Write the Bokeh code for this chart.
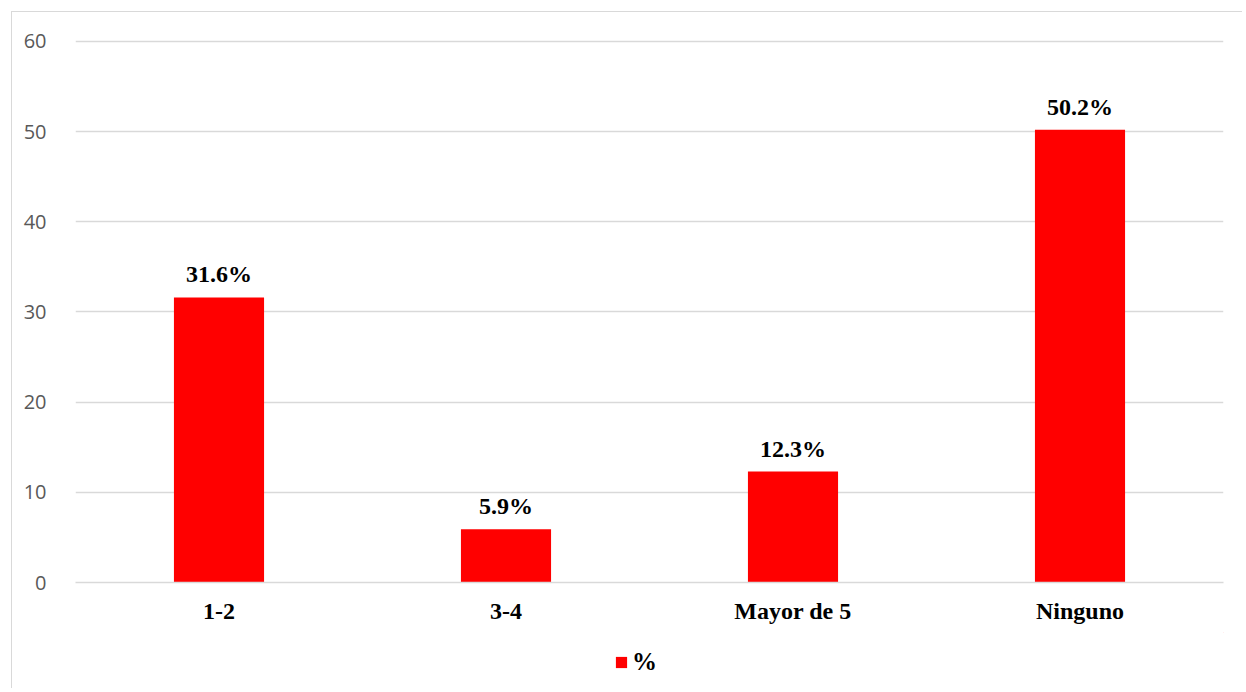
from bokeh.plotting import figure
from bokeh.layouts import column
from bokeh.models import ColumnDataSource, FactorRange, Range1d, Legend, LegendItem, FixedTicker, LabelSet
from bokeh.embed import file_html
from bokeh.resources import INLINE

categories = ["1-2", "3-4", "Mayor de 5", "Ninguno"]
values = [31.6, 5.9, 12.3, 50.2]
labels = ["31.6%", "5.9%", "12.3%", "50.2%"]
y_ticks = [0, 10, 20, 30, 40, 50, 60]
series_name = "%"

BAR_COLOR = "#FF0000"
GRID = "#d9d9d9"

src = ColumnDataSource(dict(cat=categories, val=values, lab=labels))

p = figure(
    x_range=FactorRange(*categories, range_padding=0),
    y_range=Range1d(0, 60.2),
    width=1230, height=620,
    output_backend="svg", toolbar_location=None,
    min_border_left=63, min_border_right=19, min_border_top=27, min_border_bottom=50,
)
p.outline_line_color = None
p.background_fill_color = "white"
p.border_fill_color = "white"

r = p.vbar(x="cat", top="val", width=0.314, source=src, fill_color=BAR_COLOR, line_color=None)

lab = LabelSet(x="cat", y="val", text="lab", source=src, text_align="center", text_baseline="bottom",
               y_offset=10, text_font="Liberation Serif", text_font_style="bold",
               text_font_size="24px", text_color="black")
p.add_layout(lab)

p.yaxis.ticker = FixedTicker(ticks=y_ticks)
p.yaxis.axis_line_color = None
p.yaxis.major_tick_line_color = None
p.yaxis.minor_tick_line_color = None
p.yaxis.major_label_text_font = "Open Sans"
p.yaxis.major_label_text_font_size = "20px"
p.yaxis.major_label_text_color = "#595959"
p.yaxis.major_label_standoff = 23

p.xaxis.axis_line_color = GRID
p.xaxis.axis_line_width = 1.5
p.xaxis.major_tick_line_color = None
p.xaxis.minor_tick_line_color = None
p.xaxis.major_label_text_font = "Liberation Serif"
p.xaxis.major_label_text_font_style = "bold"
p.xaxis.major_label_text_font_size = "24px"
p.xaxis.major_label_text_color = "black"
p.xaxis.major_label_standoff = 9

p.xgrid.grid_line_color = None
p.ygrid.grid_line_color = GRID
p.ygrid.grid_line_width = 1.5

# legend row
lf = figure(width=1230, height=56, x_range=Range1d(0, 1), y_range=Range1d(0, 1),
            output_backend="svg", toolbar_location=None,
            min_border=0, min_border_left=0, min_border_right=0, min_border_top=0, min_border_bottom=0)
lf.axis.visible = False
lf.grid.visible = False
lf.outline_line_color = None
lf.border_fill_color = "white"
dummy = lf.vbar(x=[5], top=[5], bottom=[4], width=0.1, fill_color=BAR_COLOR, line_color=None)
legend = Legend(items=[LegendItem(label=series_name, renderers=[dummy])],
                location=(539, 12), orientation="horizontal",
                label_text_font="Liberation Serif", label_text_font_style="bold",
                label_text_font_size="25px", label_text_color="black",
                glyph_width=14, glyph_height=14,
                border_line_color=None, background_fill_alpha=0, margin=0, padding=0,
                label_standoff=4)
lf.add_layout(legend, "center")

layout = column(p, lf, spacing=0)
layout.styles = {"border-left": "1px solid #d9d9d9", "border-top": "1px solid #d9d9d9",
                 "margin-left": "11px", "margin-top": "11px"}

open("out.html", "w").write(file_html(layout, INLINE))
